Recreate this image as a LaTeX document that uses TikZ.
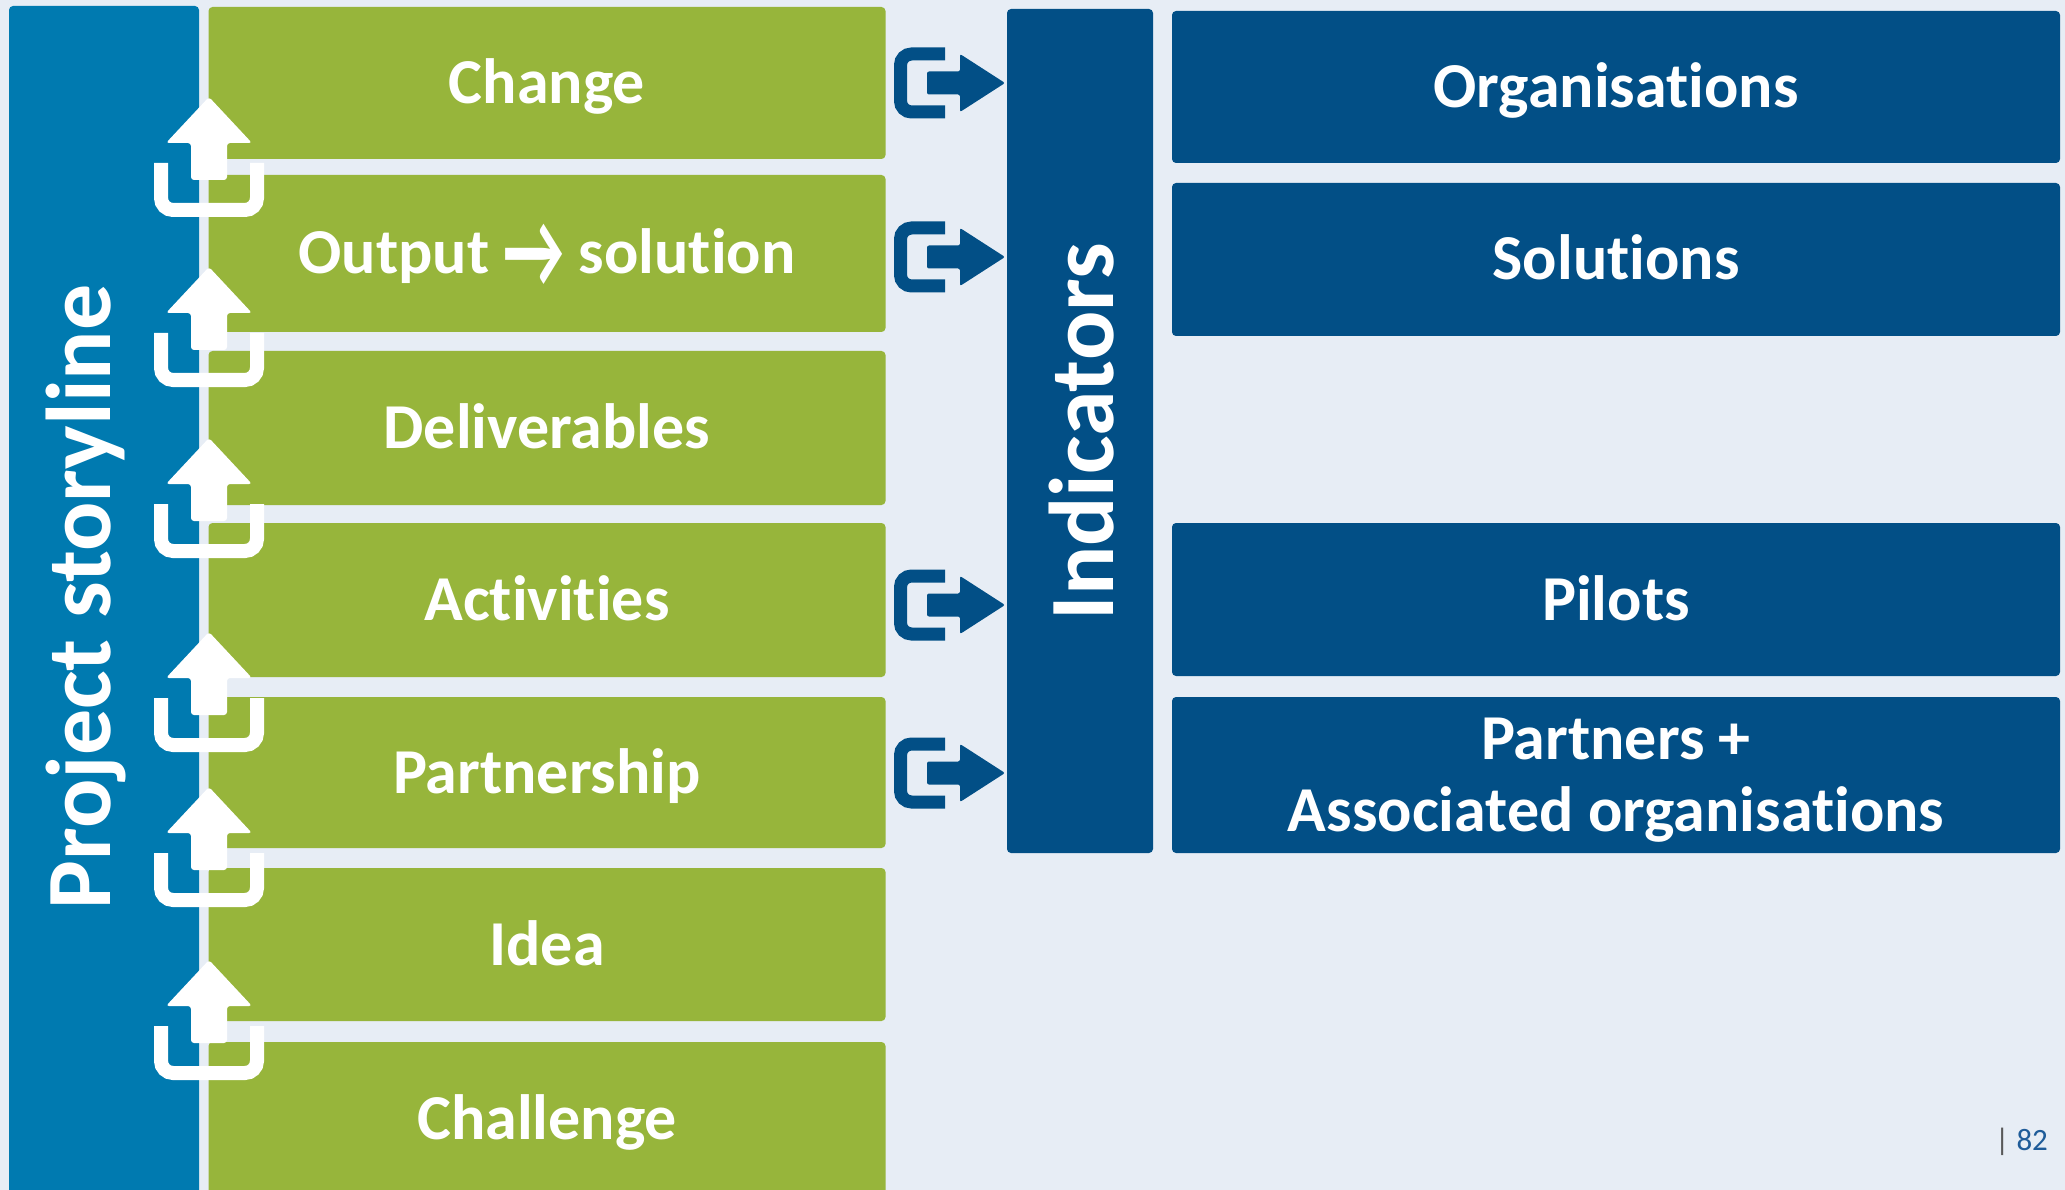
\documentclass[tikz,border=0pt]{standalone}
\usepackage{fontspec}
\setmainfont{Carlito}[RawFeature={-liga;-clig;-calt;-dlig}]
\definecolor{bg}{HTML}{E7EDF5}
\definecolor{lblue}{HTML}{007AB0}
\definecolor{grn}{HTML}{97B53B}
\definecolor{dblue}{HTML}{024F86}
\definecolor{pnum}{HTML}{1F5C99}
\definecolor{pbar}{HTML}{595959}
\tikzset{
  boxbase/.style={inner sep=0pt, rounded corners=4pt, text=white,
    font=\fontsize{64}{72}\selectfont\bfseries, text height=41pt, text depth=0pt},
  gbox/.style={boxbase, fill=grn, minimum width=677pt},
  dbox/.style={boxbase, fill=dblue, minimum width=888pt},
  uparr/.pic={
    \draw[white, line width=14pt, rounded corners=12pt] (-48,66) -- (-48,113) -- (48,113) -- (48,66);
    \fill[white, rounded corners=3pt] (0,0) -- (43,46) -- (18,46) -- (18,83) -- (-18,83) -- (-18,46) -- (-43,46) -- cycle;
  },
  rarr/.pic={
    \draw[dblue, line width=13pt, rounded corners=11pt] (51,-29) -- (6.5,-29) -- (6.5,29) -- (51,29);
    \fill[dblue, rounded corners=2pt] (33,-11.5) -- (66,-11.5) -- (66,-29) -- (111,0) -- (66,29) -- (66,11.5) -- (33,11.5) -- cycle;
  }
}
\begin{document}
\begin{tikzpicture}[x=1pt,y=-1pt]
\fill[bg] (0,0) rectangle (2065,1190);
\useasboundingbox (0,0) rectangle (2065,1190);
% left bar
\node[inner sep=0pt, fill=lblue, rounded corners=4pt, minimum width=190pt, minimum height=1189pt] (story) at (104,600.5) {};
\node[rotate=90, text=white, font=\fontsize{92}{100}\selectfont\bfseries, text height=59pt, text depth=0pt, inner sep=0pt] (storytxt) at (81,597) {Project storyline};
% green boxes
\node[gbox, minimum height=152pt] (change) at (547,83) {Change};
\node[gbox, minimum height=157pt] (output) at (547,253.5) {Output \raisebox{-14pt}{\scalebox{1.05}[1.7]{\symbol{"2192}}} solution};
\node[gbox, minimum height=154pt] (deliv) at (547,428) {Deliverables};
\node[gbox, minimum height=154pt] (activ) at (547,600) {Activities};
\node[gbox, minimum height=151pt] (partn) at (547,772.5) {Partnership};
\node[gbox, minimum height=153pt] (idea) at (547,944.5) {Idea};
\node[gbox, minimum height=153pt] (chall) at (547,1118.5) {Challenge};
% up arrows
\foreach \t in {97,267,438,632,787,960} { \pic at (209,\t) {uparr}; }
% indicators
\node[inner sep=0pt, fill=dblue, rounded corners=4pt, minimum width=146pt, minimum height=844pt] (ind) at (1080,431) {};
\node[rotate=90, text=white, font=\fontsize{92}{100}\selectfont\bfseries, text height=59pt, text depth=0pt, inner sep=0pt] (indtxt) at (1084,432) {Indicators};
% right arrows
\foreach \c in {83,257,605,773} { \pic at (894,\c) {rarr}; }
% right boxes
\node[dbox, minimum height=152pt] (org) at (1616,87) {Organisations};
\node[dbox, minimum height=153pt] (sol) at (1616,259.5) {Solutions};
\node[dbox, minimum height=153pt] (pilots) at (1616,599.5) {Pilots};
\node[dbox, minimum height=156pt, align=center, text height=113pt, text depth=0pt] (partners) at (1616,775) {Partners +\\Associated organisations};
% page number
\node[anchor=base west, inner sep=0pt, font=\fontsize{31}{34}\selectfont] (page) at (1995,1150) {\textcolor{pbar}{|} \textcolor{pnum}{82}};
\end{tikzpicture}
\end{document}
